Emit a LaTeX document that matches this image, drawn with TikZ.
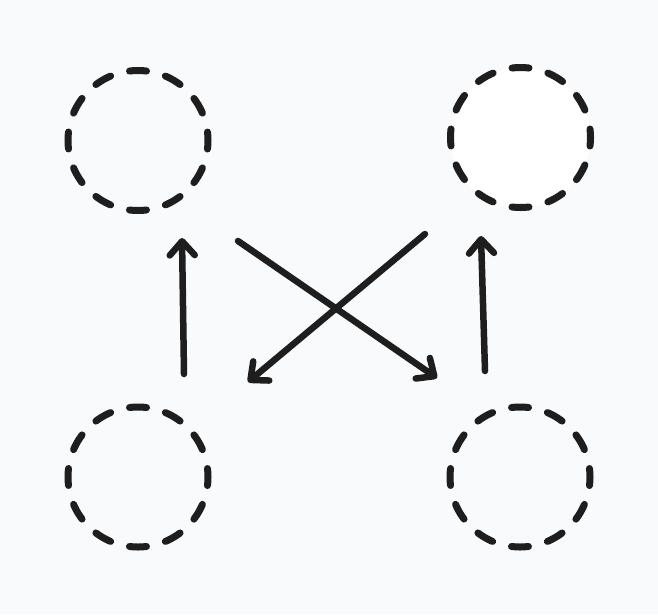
\documentclass[tikz,border=0pt]{standalone}
\usetikzlibrary{arrows.meta}
\definecolor{bgc}{HTML}{F9FAFC}
\definecolor{ink}{HTML}{1E1E1E}
\begin{document}
\begin{tikzpicture}[x=1pt,y=-1pt,
  ring/.style={circle,draw=ink,line width=7pt,minimum size=140pt,inner sep=0pt,
    line cap=round,dash pattern=on 17pt off 19.65pt,dash phase=8.5pt},
  conn/.style={draw=ink,line width=6.5pt,line cap=round,
    -{Straight Barb[length=14pt,width=25pt,round]}}]
\fill[bgc] (0,0) rectangle (658,614);
\useasboundingbox (0,0) rectangle (658,614);
\node[ring] (tl) at (138,140.5) {};
\node[ring,fill=white] (tr) at (520.5,137.5) {};
\node[ring] (bl) at (138,477) {};
\node[ring] (br) at (520,477) {};
\coordinate (a1) at (184,374);
\coordinate (a2) at (182,238);
\coordinate (b1) at (485,371);
\coordinate (b2) at (481,236);
\coordinate (c1) at (238,241);
\coordinate (c2) at (437,378);
\coordinate (d1) at (425,234);
\coordinate (d2) at (248,382);
\draw[conn] (a1) -- (a2);
\draw[conn] (b1) -- (b2);
\draw[conn] (c1) -- (c2);
\draw[conn] (d1) -- (d2);
\end{tikzpicture}
\end{document}
